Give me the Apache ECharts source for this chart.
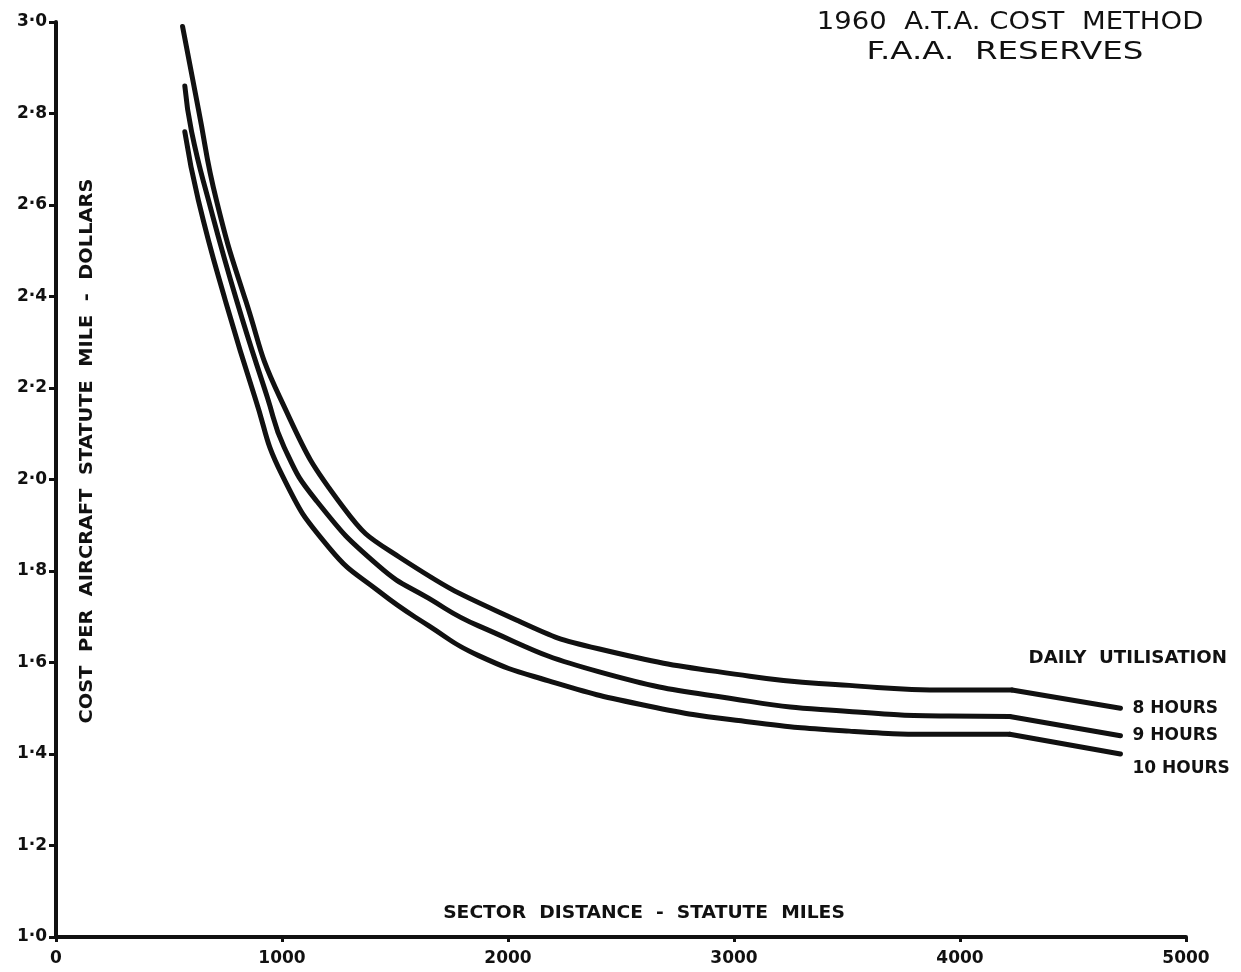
<!DOCTYPE html>
<html>
<head>
<meta charset="utf-8">
<title>1960 A.T.A. Cost Method - F.A.A. Reserves</title>
<script src="https://cdn.jsdelivr.net/npm/echarts@6/dist/echarts.min.js"></script>
<style>
  html, body { margin: 0; padding: 0; background: #ffffff; }
  #chart { width: 1241px; height: 972px; }
</style>
</head>
<body>
<div id="chart"></div>
<script>
// Sector distance (statute miles) vs cost per aircraft statute mile (dollars)
const hours8 = [
  [560, 2.99], [630, 2.81], [710, 2.61], [840, 2.39], [990, 2.18],
  [1270, 1.94], [1520, 1.83], [2050, 1.69], [2400, 1.63],
  [3070, 1.57], [3510, 1.55], [3950, 1.54], [4230, 1.54], [4710, 1.50]
];
const hours9 = [
  [570, 2.86], [600, 2.76], [675, 2.61], [800, 2.39], [935, 2.18], [1010, 2.07],
  [1150, 1.955], [1430, 1.81], [1650, 1.74], [1870, 1.68],
  [2400, 1.58], [3070, 1.515], [3510, 1.493], [3950, 1.483], [4220, 1.482],
  [4710, 1.44]
];
const hours10 = [
  [570, 2.76], [630, 2.61], [750, 2.39], [880, 2.18], [1000, 2.01], [1210, 1.85],
  [1430, 1.755], [1650, 1.68], [1870, 1.615], [2180, 1.56], [2620, 1.505],
  [3070, 1.47], [3510, 1.45], [3950, 1.443], [4220, 1.443], [4710, 1.40]
];
const seriesNames = ['8 HOURS', '9 HOURS', '10 HOURS'];
const xTicks = [0, 1000, 2000, 3000, 4000, 5000];
const yTicks = ['1·0', '1·2', '1·4', '1·6', '1·8', '2·0', '2·2', '2·4', '2·6', '2·8', '3·0'];

const INK = '#111111';
const FONT = '"DejaVu Sans", "Liberation Sans", sans-serif';
const labelOffsets = [[4, 0], [4, 0], [4, 15]];

const chart = echarts.init(document.getElementById('chart'), null, { renderer: 'canvas' });

const series = [];
[hours8, hours9, hours10].forEach((pts, i) => {
  // smooth falling curve up to the knee
  series.push({
    type: 'line',
    name: seriesNames[i],
    data: pts.slice(0, -1),
    smooth: 0.5,
    symbol: 'none',
    lineStyle: { color: INK, width: 5, cap: 'round', join: 'round' },
    silent: true,
    z: 3
  });
  // straight run beyond the knee
  series.push({
    type: 'line',
    name: seriesNames[i],
    data: pts.slice(-2),
    smooth: false,
    symbol: 'none',
    lineStyle: { color: INK, width: 5, cap: 'round', join: 'round' },
    silent: true,
    z: 3,
    endLabel: {
      show: true,
      formatter: seriesNames[i],
      color: INK,
      fontFamily: FONT,
      fontWeight: 'bold',
      fontSize: 17,
      offset: labelOffsets[i]
    }
  });
});

// text block helper: centred/aligned text, optionally stretched horizontally
function label(text, x, y, font, align, scaleX, rotation) {
  return {
    type: 'text', x: x, y: y, scaleX: scaleX || 1, rotation: rotation || 0,
    style: {
      text: text, x: 0, y: 0, align: align || 'center', verticalAlign: 'middle',
      fill: INK, font: font
    }
  };
}

const option = {
  backgroundColor: '#ffffff',
  animation: false,
  grid: { left: 56, right: 55, top: 22, bottom: 35, containLabel: false },
  xAxis: {
    type: 'value',
    min: xTicks[0],
    max: xTicks[xTicks.length - 1],
    interval: 1000,
    axisLine: { show: true, lineStyle: { color: INK, width: 4 } },
    axisTick: { show: true, length: 5, lineStyle: { color: INK, width: 3 } },
    axisLabel: {
      color: INK, fontFamily: FONT, fontWeight: 'bold', fontSize: 17, margin: 13,
      formatter: v => String(v)
    },
    splitLine: { show: false }
  },
  yAxis: {
    type: 'value',
    min: 1,
    max: 3,
    interval: 0.2,
    axisLine: { show: true, lineStyle: { color: INK, width: 4 } },
    axisTick: { show: true, length: 7, lineStyle: { color: INK, width: 3 } },
    axisLabel: {
      color: INK, fontFamily: FONT, fontWeight: 'bold', fontSize: 17, margin: 9,
      formatter: v => yTicks[Math.round((v - 1) / 0.2)]
    },
    splitLine: { show: false }
  },
  graphic: [
    label('1960  A.T.A. COST  METHOD', 1010, 22, '25px ' + FONT, 'center', 1.1),
    label('F.A.A.  RESERVES', 1005, 52, '25px ' + FONT, 'center', 1.3),
    label('DAILY  UTILISATION', 1227, 659, 'bold 17px ' + FONT, 'right', 1.07),
    label('SECTOR  DISTANCE  -  STATUTE  MILES', 644, 914, 'bold 17px ' + FONT, 'center', 1.1),
    label('COST  PER  AIRCRAFT  STATUTE  MILE  -  DOLLARS', 88, 451, 'bold 17px ' + FONT, 'center', 1.14, Math.PI / 2)
  ],
  series: series
};

chart.setOption(option);
</script>
</body>
</html>
